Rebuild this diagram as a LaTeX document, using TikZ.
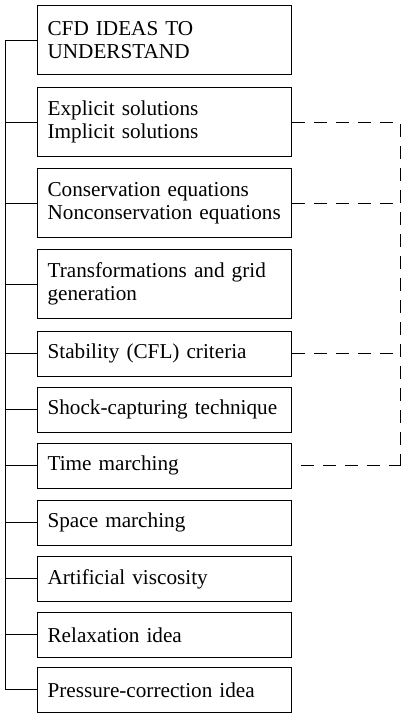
\documentclass[tikz,border=0pt]{standalone}
\usepackage{fontspec}
\setmainfont{Liberation Serif}
\usepackage{tikz}
\usetikzlibrary{calc,positioning}
\tikzset{
  idea/.style={draw,line width=0.6pt,anchor=north west,text width=117pt,inner xsep=5pt,inner ysep=0pt,
    align=left,font=\fontsize{10.6}{11.5}\selectfont},
  tall/.style={idea,minimum height=34.5pt},
  flat/.style={idea,minimum height=22.3pt},
  tree/.style={line width=0.5pt},
  link/.style={line width=0.5pt,dash pattern=on 6.5pt off 4.5pt}
}

\begin{document}
\begin{tikzpicture}[x=0.5pt,y=-0.5pt]
\useasboundingbox (0,0) rectangle (402,714);
\node[tall] (b1) at (37,5) {CFD IDEAS TO\\UNDERSTAND};
\node[tall] (b2) at (37,87) {Explicit solutions\\Implicit solutions};
\node[tall] (b3) at (37,168) {Conservation equations\\Nonconservation equations};
\node[tall] (b4) at (37,249) {Transformations and grid\\generation};
\node[flat] (b5) at (37,331) {Stability (CFL) criteria};
\node[flat] (b6) at (37,387) {Shock-capturing technique};
\node[flat] (b7) at (37,443) {Time marching};
\node[flat] (b8) at (37,500) {Space marching};
\node[flat] (b9) at (37,556) {Artificial viscosity};
\node[flat] (b10) at (37,612) {Relaxation idea};
\node[flat] (b11) at (37,667) {Pressure-correction idea};
% left bracket
\coordinate (trunk) at (5,0);
\draw[tree] (b1.west) -- (b1.west -| trunk) -- (b11.west -| trunk) -- (b11.west);
\foreach \n in {b2,b3,b4,b5,b6,b7,b8,b9,b10}
  \draw[tree] (\n.west) -- (\n.west -| trunk);
% dashed links on the right
\coordinate (rail) at (400,0);
\draw[link] (b2.east) -- (b2.east -| rail) -- (b7.east -| rail);
\draw[link] ([xshift=4.5pt]b7.east) -- (b7.east -| rail);
\draw[link] (b3.east) -- (b3.east -| rail);
\draw[link] (b5.east) -- (b5.east -| rail);
\end{tikzpicture}
\end{document}
